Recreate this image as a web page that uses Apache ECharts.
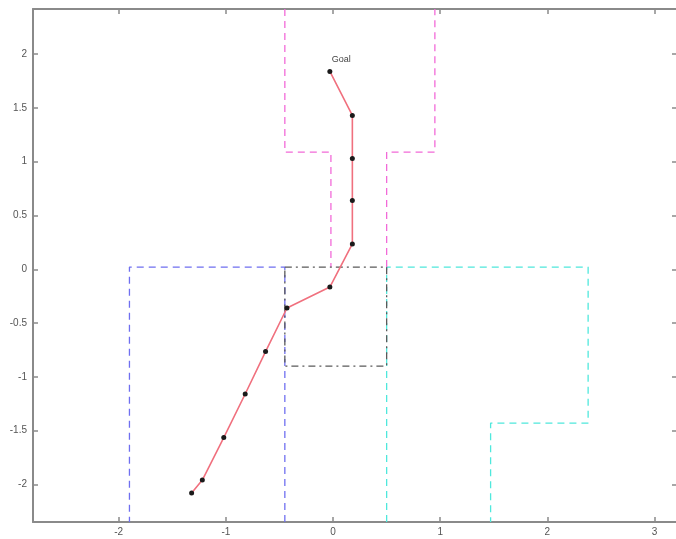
<!DOCTYPE html>
<html>
<head>
<meta charset="utf-8">
<script src="https://cdn.jsdelivr.net/npm/echarts@6/dist/echarts.min.js"></script>
<style>
  html, body { margin: 0; padding: 0; background: #fff; }
  #chart { width: 676px; height: 539px; }
</style>
</head>
<body>
<div id="chart"></div>
<script>
// Axis limits and tick positions
const xRange = [-2.8, 3.2];
const yRange = [-2.35, 2.42];
const xTicks = [-2, -1, 0, 1, 2, 3];
const yTicks = [-2, -1.5, -1, -0.5, 0, 0.5, 1, 1.5, 2];

// Region outlines (polylines of [x, y])
const blueRegion = [[-0.45, -2.35], [-0.45, 0.02], [-1.9, 0.02], [-1.9, -2.35]];
const cyanRegion = [[0.5, -2.35], [0.5, 0.02], [2.38, 0.02], [2.38, -1.43], [1.47, -1.43], [1.47, -2.35]];
const magentaLeft = [[-0.45, 2.42], [-0.45, 1.09], [-0.02, 1.09], [-0.02, 0.02]];
const magentaRight = [[0.5, 0.02], [0.5, 1.09], [0.95, 1.09], [0.95, 2.42]];
const centerRegion = [[-0.45, 0.02], [0.5, 0.02], [0.5, -0.9], [-0.45, -0.9], [-0.45, 0.02]];

// Path waypoints, start to goal
const pathX = [-1.32, -1.22, -1.02, -0.82, -0.63, -0.43, -0.03, 0.18, 0.18, 0.18, 0.18, -0.03];
const pathY = [-2.08, -1.96, -1.565, -1.16, -0.765, -0.36, -0.165, 0.235, 0.64, 1.03, 1.43, 1.84];
const goalText = 'Goal';

const pathData = pathX.map((x, i) => [x, pathY[i]]);

const axisGray = '#8a8a8a';
const labelGray = '#555';

function outline(data, color, dash) {
  return {
    type: 'line',
    data: data,
    symbol: 'none',
    silent: true,
    animation: false,
    lineStyle: { color: color, width: 1.3, type: dash }
  };
}

const chart = echarts.init(document.getElementById('chart'), null, { renderer: 'canvas' });

const baseX = {
  type: 'value', min: xRange[0], max: xRange[1],
  splitLine: { show: false },
  axisLine: { show: true, onZero: false, lineStyle: { color: axisGray, width: 2 } }
};
const baseY = {
  type: 'value', min: yRange[0], max: yRange[1],
  splitLine: { show: false },
  axisLine: { show: true, onZero: false, lineStyle: { color: axisGray, width: 2 } }
};

chart.setOption({
  animation: false,
  backgroundColor: '#fff',
  grid: { left: 33, right: 0, top: 9, bottom: 17, containLabel: false },
  xAxis: [
    Object.assign({}, baseX, {
      position: 'bottom',
      axisTick: { show: true, inside: true, length: 5, customValues: xTicks, lineStyle: { color: axisGray, width: 1.5 } },
      axisLabel: { show: true, customValues: xTicks, color: labelGray, fontSize: 10, fontFamily: 'Liberation Sans, Arial, sans-serif', margin: 5 }
    }),
    Object.assign({}, baseX, {
      position: 'top',
      axisTick: { show: true, inside: true, length: 5, customValues: xTicks, lineStyle: { color: axisGray, width: 1.5 } },
      axisLabel: { show: false }
    })
  ],
  yAxis: [
    Object.assign({}, baseY, {
      position: 'left',
      axisTick: { show: true, inside: true, length: 5, customValues: yTicks, lineStyle: { color: axisGray, width: 1.5 } },
      axisLabel: { show: true, customValues: yTicks, color: labelGray, fontSize: 10, fontFamily: 'Liberation Sans, Arial, sans-serif', margin: 6 }
    }),
    Object.assign({}, baseY, {
      position: 'right',
      axisLine: { show: false, onZero: false },
      axisTick: { show: true, inside: true, length: 4, customValues: yTicks, lineStyle: { color: axisGray, width: 1.5 } },
      axisLabel: { show: false }
    })
  ],
  series: [
    outline(blueRegion, '#6f6ff0', [7, 5]),
    outline(cyanRegion, '#4fe8dc', [7, 5]),
    outline(magentaLeft, '#f26ad8', [7, 5]),
    outline(magentaRight, '#f26ad8', [7, 5]),
    outline(centerRegion, '#5a5a5a', [7, 4, 2, 4]),
    {
      type: 'line',
      data: pathData,
      symbol: 'circle',
      symbolSize: 5,
      animation: false,
      lineStyle: { color: '#f0707e', width: 1.6 },
      itemStyle: { color: '#1a1a1a' },
      label: {
        show: true,
        formatter: function (p) { return p.dataIndex === pathData.length - 1 ? goalText : ''; },
        position: 'top',
        align: 'left',
        offset: [2, 0],
        color: '#444',
        fontSize: 9,
        fontFamily: 'Liberation Sans, Arial, sans-serif'
      },
      z: 5
    }
  ]
});
</script>
</body>
</html>
